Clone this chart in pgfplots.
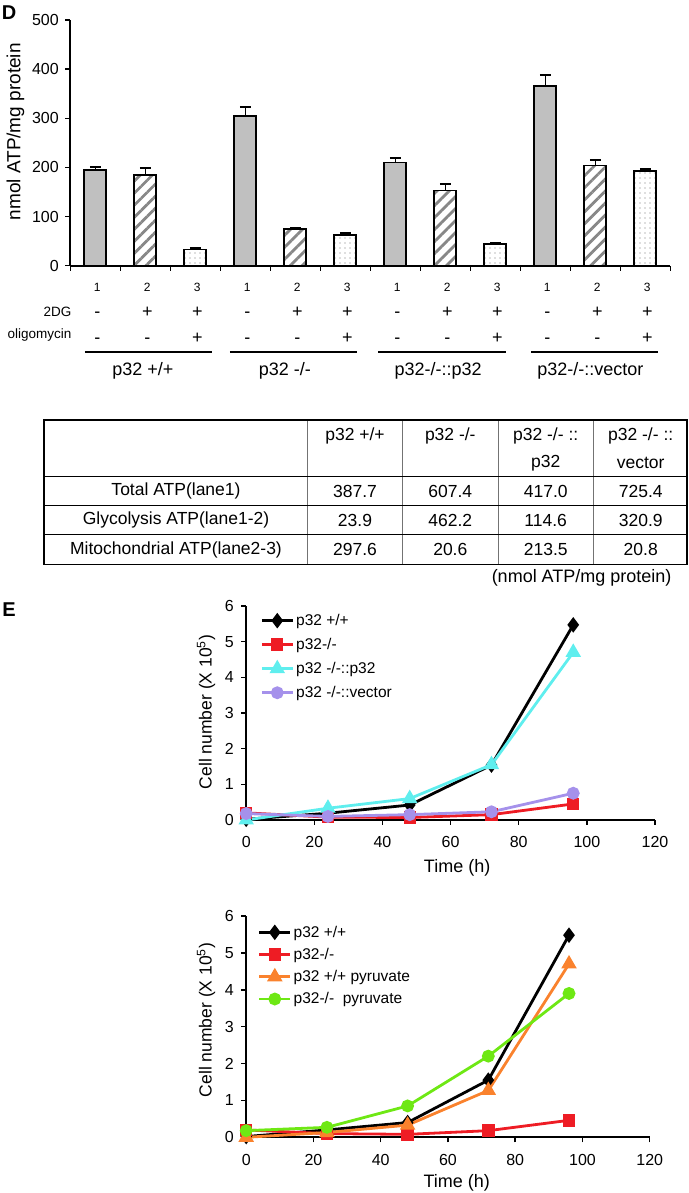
\documentclass[border=0pt]{standalone}
\usepackage{fontspec}
\setmainfont{Liberation Sans}
\usepackage{pgfplots}
\pgfplotsset{compat=1.18}
\usetikzlibrary{patterns.meta}
\definecolor{barg}{RGB}{192,192,192}
\definecolor{stripe}{RGB}{135,135,135}
\definecolor{dotc}{RGB}{120,120,120}
\definecolor{cred}{RGB}{238,28,36}
\definecolor{ccyan}{RGB}{95,238,238}
\definecolor{cpurp}{RGB}{165,145,235}
\definecolor{corange}{RGB}{250,130,45}
\definecolor{cgreen}{RGB}{110,232,20}
\newcommand\fs[1]{\fontsize{#1}{#1}\selectfont}
\begin{document}
\begin{tikzpicture}
\path[use as bounding box] (0,0) rectangle (688pt,1193pt);
% ---------------- Panel D ----------------
\node[font=\fs{20}\bfseries] at (9pt,1180.5pt) {D};
\begin{axis}[
  at={(70.3pt,927.3pt)}, anchor=south west,
  scale only axis, width=600pt, height=245.7pt,
  xmin=0.5, xmax=12.5, ymin=0, ymax=500,
  axis x line*=bottom, axis y line*=left,
  axis line style={line width=1.8pt},
  xtick={0.5,1.5,...,12.5}, xticklabels={},
  ytick={0,100,...,500},
  tick align=outside, major tick length=5pt,
  tick style={line width=1.5pt, black},
  /pgf/number format/assume math mode=true,
  yticklabel style={font=\fs{16}, xshift=-3pt},
  ylabel={nmol ATP/mg protein},
  ylabel style={font=\fs{19}, at={(axis description cs:-0.0913,0.545)}, anchor=center},
  clip=false,
]
\addplot[ybar, bar width=22pt, bar shift=0pt, fill=barg, draw=black, line width=1.8pt,
  error bars/.cd, y dir=plus, y explicit,
  error bar style={line width=1.5pt, black},
  error mark options={rotate=90, mark size=5.5pt, line width=2pt, black}]
  coordinates {(1,195) +- (0,6) (4,305) +- (0,17) (7,210) +- (0,10) (10,366) +- (0,22)};
\addplot[ybar, bar width=22pt, bar shift=0pt, preaction={fill=white},
  pattern={Lines[angle=45,distance=8.5pt,line width=2.8pt]}, pattern color=stripe,
  draw=black, line width=1.8pt,
  error bars/.cd, y dir=plus, y explicit,
  error bar style={line width=1.5pt, black},
  error mark options={rotate=90, mark size=5.5pt, line width=2pt, black}]
  coordinates {(2,184) +- (0,14) (5,74) +- (0,3) (8,153) +- (0,14) (11,204) +- (0,11)};
\addplot[ybar, bar width=22pt, bar shift=0pt, preaction={fill=white},
  pattern={Dots[distance=5pt,radius=0.7pt]}, pattern color=dotc,
  draw=black, line width=1.8pt,
  error bars/.cd, y dir=plus, y explicit,
  error bar style={line width=1.5pt, black},
  error mark options={rotate=90, mark size=5.5pt, line width=2pt, black}]
  coordinates {(3,33) +- (0,2) (6,63) +- (0,3) (9,44) +- (0,2) (12,193) +- (0,3)};
\end{axis}
% lane labels and treatments
\foreach \x/\n/\d/\o in {97.3/1/-/-, 147.3/2/+/-, 197.3/3/+/+, 247.3/1/-/-, 297.3/2/+/-, 347.3/3/+/+, 397.3/1/-/-, 447.3/2/+/-, 497.3/3/+/+, 547.3/1/-/-, 597.3/2/+/-, 647.3/3/+/+} {
  \node[font=\fs{12}] at (\x pt,906pt) {\n};
  \node[font=\fs{18}, anchor=base] at (\x pt,875.5pt) {\d};
  \node[font=\fs{18}, anchor=base] at (\x pt,849pt) {\o};
}
\node[font=\fs{13.5}, anchor=east] at (75pt,881pt) {2DG};
\node[font=\fs{13.5}, anchor=east] at (75pt,858pt) {oligomycin};
\foreach \a/\b/\c/\t in {84.8/212.3/142.9/{p32 +/+}, 229.9/357.4/284.8/{p32 -/-}, 378/505.5/438.2/{p32-/-::p32}, 531/658/590.3/{p32-/-::vector}} {
  \draw[line width=2pt] (\a pt,841.3pt) -- (\b pt,841.3pt);
  \node[font=\fs{18}] at (\c pt,822.3pt) {\t};
}
% ---------------- Table ----------------
\draw[line width=1pt, black!55] (307.7pt,773pt) -- (307.7pt,628.7pt)
  (402.6pt,773pt) -- (402.6pt,628.7pt)
  (498pt,773pt) -- (498pt,628.7pt)
  (593.4pt,773pt) -- (593.4pt,628.7pt);
\draw[line width=1.2pt] (44pt,716.5pt) -- (687pt,716.5pt)
  (44pt,687.5pt) -- (687pt,687.5pt)
  (44pt,658.5pt) -- (687pt,658.5pt);
\draw[line width=1.5pt] (44pt,628.7pt) rectangle (687pt,773pt);
\begin{scope}[every node/.style={font=\fs{17.5}}]
\node at (355pt,757pt) {p32 +/+};
\node at (450.3pt,757pt) {p32 -/-};
\node at (545.7pt,757pt) {p32 -/- ::};
\node at (545.7pt,729.7pt) {p32};
\node at (640.7pt,757pt) {p32 -/- ::};
\node at (640.7pt,729.7pt) {vector};
\node at (176pt,701.8pt) {Total ATP(lane1)};
\node at (176pt,672.7pt) {Glycolysis ATP(lane1-2)};
\node at (176pt,643.3pt) {Mitochondrial ATP(lane2-3)};
\foreach \x/\a/\b/\c in {355/387.7/23.9/297.6, 450.3/607.4/462.2/20.6, 545.7/417.0/114.6/213.5, 640.7/725.4/320.9/20.8} {
  \node at (\x pt,701.8pt) {\a};
  \node at (\x pt,672.7pt) {\b};
  \node at (\x pt,643.3pt) {\c};
}
\end{scope}
\node[font=\fs{18}, anchor=east] at (675pt,615pt) {(nmol ATP/mg protein)};
% ---------------- Panel E ----------------
\node[font=\fs{20}\bfseries] at (9pt,583pt) {E};
\pgfplotsset{
  growth/.style={
    scale only axis,
    xmin=0, xmax=120, ymin=0, ymax=6,
    axis x line*=bottom, axis y line*=left,
    axis line style={line width=1.8pt},
    xtick={0,20,...,120}, ytick={0,1,...,6},
    tick align=outside, major tick length=5pt,
    tick style={line width=1.5pt, black},
    /pgf/number format/assume math mode=true,
    ticklabel style={font=\fs{16}},
    xticklabel style={yshift=-8pt},
    yticklabel style={xshift=-4pt},
    xlabel={Time (h)},
    ylabel={Cell number (X 10\textsuperscript{5})},
    xlabel style={font=\fs{18}, anchor=center},
    ylabel style={font=\fs{17.5}, anchor=center},
    clip=false,
    legend cell align=left,
    legend image code/.code={\draw[mark repeat=2,mark phase=2,##1] plot coordinates {(0pt,0pt) (15.5pt,0pt) (31pt,0pt)};},
  },
  ln/.style={line width=2.8pt, mark options={solid}},
}
\begin{axis}[growth,
  at={(246.2pt,373pt)}, anchor=south west, width=408.8pt, height=214pt,
  xlabel style={at={(axis description cs:0.516,0)}, yshift=-48pt},
  ylabel style={at={(axis description cs:-0.0983,0.5047)}},
  legend style={at={(axis description cs:0.0347,0.9706)}, anchor=north west, draw=none, fill=none,
    inner sep=0pt, outer sep=0pt, font=\fs{15.5}, row sep=7.3pt, nodes={inner sep=2pt}},
]
\addplot[ln, black, mark=diamond*, mark size=5.5pt] coordinates {(0,0.02) (24,0.19) (48,0.42) (72,1.54) (96,5.47)};
\addlegendentry{p32 +/+}
\addplot[ln, cred, mark=square*, mark size=4.8pt] coordinates {(0,0.2) (24,0.08) (48,0.07) (72,0.15) (96,0.45)};
\addlegendentry{p32-/-}
\addplot[ln, ccyan, mark=triangle*, mark size=6.2pt] coordinates {(0,0.0) (24,0.33) (48,0.6) (72,1.55) (96,4.7)};
\addlegendentry{p32 -/-::p32}
\addplot[ln, cpurp, mark=*, mark size=5pt] coordinates {(0,0.18) (24,0.1) (48,0.15) (72,0.23) (96,0.75)};
\addlegendentry{p32 -/-::vector}
\end{axis}
\begin{axis}[growth,
  at={(246.2pt,55.7pt)}, anchor=south west, width=403.5pt, height=221.3pt,
  xlabel style={at={(axis description cs:0.522,0)}, yshift=-46pt},
  ylabel style={at={(axis description cs:-0.0996,0.530)}},
  legend style={at={(axis description cs:0.029,0.964)}, anchor=north west, draw=none, fill=none,
    inner sep=0pt, outer sep=0pt, font=\fs{15.5}, row sep=5.5pt, nodes={inner sep=2pt}},
]
\addplot[ln, black, mark=diamond*, mark size=5.5pt] coordinates {(0,0.02) (24,0.2) (48,0.4) (72,1.55) (96,5.48)};
\addlegendentry{p32 +/+}
\addplot[ln, cred, mark=square*, mark size=4.8pt] coordinates {(0,0.2) (24,0.1) (48,0.08) (72,0.18) (96,0.46)};
\addlegendentry{p32-/-}
\addplot[ln, corange, mark=triangle*, mark size=6.2pt] coordinates {(0,0.0) (24,0.13) (48,0.33) (72,1.27) (96,4.7)};
\addlegendentry{p32 +/+ pyruvate}
\addplot[ln, cgreen, mark=*, mark size=5pt] coordinates {(0,0.18) (24,0.27) (48,0.85) (72,2.2) (96,3.9)};
\addlegendentry{p32-/-~~pyruvate}
\end{axis}
\end{tikzpicture}
\end{document}
